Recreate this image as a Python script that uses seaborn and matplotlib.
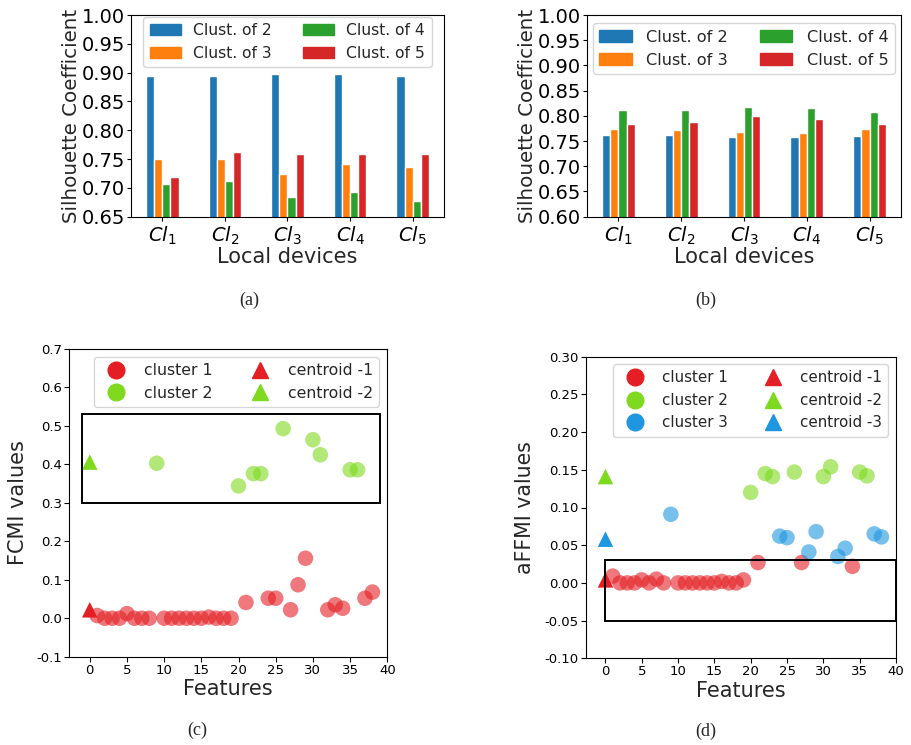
import numpy as np
import pandas as pd
import matplotlib
matplotlib.use("Agg")
import matplotlib.pyplot as plt
import matplotlib.patches as mpatches
from matplotlib.lines import Line2D
import seaborn as sns

# ── data ────────────────────────────────────────────────────────────────
devices = ["$Cl_1$", "$Cl_2$", "$Cl_3$", "$Cl_4$", "$Cl_5$"]
k_labels = ["Clust. of 2", "Clust. of 3", "Clust. of 4", "Clust. of 5"]

# (a) silhouette per device, one list per cluster count
sil_a = {
    "Clust. of 2": [0.895, 0.895, 0.898, 0.898, 0.895],
    "Clust. of 3": [0.750, 0.750, 0.724, 0.741, 0.736],
    "Clust. of 4": [0.707, 0.712, 0.684, 0.693, 0.677],
    "Clust. of 5": [0.719, 0.762, 0.759, 0.759, 0.759],
}
# (b)
sil_b = {
    "Clust. of 2": [0.762, 0.762, 0.758, 0.758, 0.760],
    "Clust. of 3": [0.773, 0.772, 0.767, 0.766, 0.773],
    "Clust. of 4": [0.811, 0.811, 0.818, 0.816, 0.808],
    "Clust. of 5": [0.784, 0.788, 0.800, 0.794, 0.784],
}

# (c) FCMI values per feature
fcmi_c1_x = [1, 2, 3, 4, 5, 6, 7, 8, 10, 11, 12, 13, 14, 15, 16, 17, 18, 19,
             21, 24, 25, 27, 28, 29, 32, 33, 34, 37, 38]
fcmi_c1_y = [0.007, 0.0, 0.0, 0.0, 0.012, 0.0, 0.0, 0.0, 0.0, 0.0, 0.0, 0.0,
             0.0, 0.0, 0.003, 0.0, 0.0, 0.0, 0.041, 0.052, 0.052, 0.022,
             0.087, 0.156, 0.022, 0.035, 0.026, 0.052, 0.068]
fcmi_c2_x = [9, 20, 22, 23, 26, 30, 31, 35, 36]
fcmi_c2_y = [0.403, 0.344, 0.376, 0.376, 0.493, 0.464, 0.425, 0.386, 0.386]
fcmi_centroids = [0.022, 0.406]

# (d) aFFMI values per feature
affmi_c1_x = [1, 2, 3, 4, 5, 6, 7, 8, 10, 11, 12, 13, 14, 15, 16, 17, 18, 19,
              21, 27, 34]
affmi_c1_y = [0.009, 0.0, 0.0, 0.0, 0.004, 0.0, 0.005, 0.0, 0.0, 0.0, 0.0,
              0.0, 0.0, 0.0, 0.002, 0.0, 0.0, 0.004, 0.027, 0.027, 0.022]
affmi_c2_x = [20, 22, 23, 26, 30, 31, 35, 36]
affmi_c2_y = [0.120, 0.145, 0.141, 0.147, 0.141, 0.154, 0.147, 0.142]
affmi_c3_x = [9, 24, 25, 28, 29, 32, 33, 37, 38]
affmi_c3_y = [0.091, 0.062, 0.060, 0.041, 0.068, 0.035, 0.046, 0.065, 0.061]
affmi_centroids = [0.004, 0.141, 0.058]

BAR_COLORS = ["#1f77b4", "#ff7f0e", "#2ca02c", "#d62728"]
CL_COLORS = ["#E31E24", "#7ED91F", "#1E96E0"]

sns.set_style("ticks")
plt.rcParams["font.family"] = ["DejaVu Sans"]
plt.rcParams["axes.edgecolor"] = "black"
plt.rcParams["xtick.color"] = "black"
plt.rcParams["ytick.color"] = "black"

W, H = 912, 745
fig = plt.figure(figsize=(W / 100, H / 100), dpi=100)


def px_axes(left, right, top, bottom):
    return fig.add_axes([left / W, 1 - bottom / H, (right - left) / W, (bottom - top) / H])


def bar_panel(ax, values, ylim, legend_kw):
    df = pd.DataFrame(
        [(dev, k, values[k][i]) for k in k_labels for i, dev in enumerate(devices)],
        columns=["device", "k", "score"],
    )
    sns.barplot(data=df, x="device", y="score", hue="k", hue_order=k_labels,
                order=devices, palette=BAR_COLORS, width=0.52, saturation=1,
                legend=False, ax=ax)
    ax.set_ylim(*ylim)
    ax.set_yticks(np.arange(ylim[0], ylim[1] + 0.001, 0.05))
    ax.yaxis.set_major_formatter(matplotlib.ticker.FormatStrFormatter("%.2f"))
    ax.set_xlabel("Local devices", fontsize=15, labelpad=0)
    ax.set_ylabel("Silhouette Coefficient", fontsize=14.3, labelpad=0.5)
    ax.tick_params(axis="both", labelsize=14, length=3, pad=1.5)
    ax.tick_params(axis="x", pad=3)
    handles = [mpatches.Patch(color=c, label=l) for c, l in zip(BAR_COLORS, k_labels)]
    ax.legend(handles=handles, ncol=2, loc="upper center", **legend_kw)


def scatter_panel(ax, groups, centroids, ylim, yticks, fmt, legend_fs):
    for (gx, gy), col in zip(groups, CL_COLORS):
        sns.scatterplot(x=gx, y=gy, color=col, alpha=0.6, s=125,
                        edgecolor="none", ax=ax)
    for cy, col in zip(centroids, CL_COLORS):
        ax.scatter([0], [cy], marker="^", color=col, s=125, edgecolor="none", zorder=3)
    ax.set_xlim(-2.75, 40)
    ax.set_xticks(range(0, 41, 5))
    ax.set_ylim(*ylim)
    ax.set_yticks(yticks)
    ax.yaxis.set_major_formatter(matplotlib.ticker.FormatStrFormatter(fmt))
    ax.tick_params(axis="both", labelsize=9.5, length=3.5, pad=1.5)
    ax.set_xlabel("Features", fontsize=15, labelpad=2)
    n = len(groups)
    handles = [Line2D([], [], ls="none", marker="o", ms=12, color=CL_COLORS[i],
                      label=f"cluster {i + 1}") for i in range(n)]
    handles += [Line2D([], [], ls="none", marker="^", ms=12, color=CL_COLORS[i],
                       label=f"centroid -{i + 1}") for i in range(n)]
    ax.legend(handles=handles, ncol=2, loc="upper right", fontsize=legend_fs)


# ── (a) ──
ax_a = px_axes(131, 444, 15, 216.7)
bar_panel(ax_a, sil_a, (0.65, 1.00), dict(fontsize=11.2, borderaxespad=0.1))

# ── (b) ──
ax_b = px_axes(587, 901, 15, 216.7)
bar_panel(ax_b, sil_b, (0.60, 1.00), dict(fontsize=11.6, handletextpad=0.9))

# ── (c) ──
ax_c = px_axes(69.3, 387.3, 349, 656.7)
scatter_panel(ax_c, [(fcmi_c1_x, fcmi_c1_y), (fcmi_c2_x, fcmi_c2_y)],
              fcmi_centroids, (-0.1, 0.7), np.arange(-0.1, 0.71, 0.1), "%.1f", 11.3)
ax_c.set_ylabel("FCMI values", fontsize=15, labelpad=6)
ax_c.add_patch(mpatches.Rectangle((-1, 0.30), 40, 0.23, fill=False,
                                  edgecolor="black", lw=1.4, zorder=4))

# ── (d) ──
ax_d = px_axes(585.5, 896, 356.7, 658.3)
scatter_panel(ax_d, [(affmi_c1_x, affmi_c1_y), (affmi_c2_x, affmi_c2_y),
                     (affmi_c3_x, affmi_c3_y)],
              affmi_centroids, (-0.1, 0.3), np.arange(-0.1, 0.301, 0.05), "%.2f", 10.9)
ax_d.set_ylabel("aFFMI values", fontsize=14.8, labelpad=7)
ax_d.add_patch(mpatches.Rectangle((0, -0.05), 40, 0.08, fill=False,
                                  edgecolor="black", lw=1.4, zorder=4))

for ax in (ax_a, ax_b, ax_c, ax_d):
    for sp in ax.spines.values():
        sp.set_visible(True)
        sp.set_color("black")

# sub-figure captions
for lab, x, y in [("(a)", 249, 300), ("(b)", 706, 300), ("(c)", 197, 730), ("(d)", 706, 731)]:
    fig.text(x / W, 1 - y / H, lab, ha="center", va="center", fontsize=13,
             family=["Liberation Serif", "DejaVu Serif"])

fig.savefig("out.png", dpi=100)
